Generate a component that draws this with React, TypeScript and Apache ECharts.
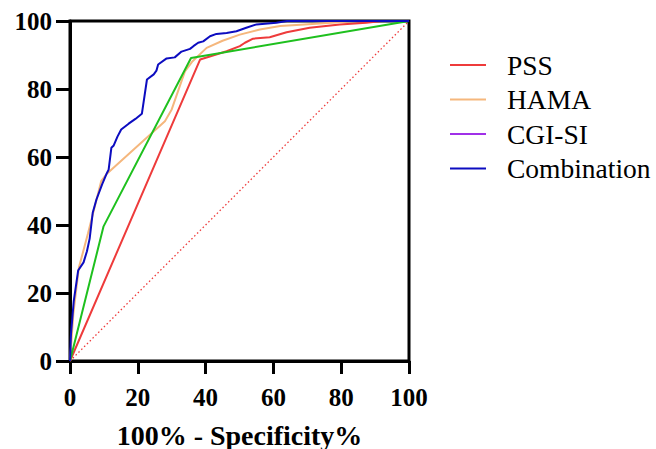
import React, { useEffect, useRef } from "react";
import * as echarts from "echarts";

const seriesNames = ["PSS", "HAMA", "CGI-SI", "Combination"];
const xTicks = [0, 20, 40, 60, 80, 100];

const pssPoints: [number, number][] = [
  [0, 0], [38.4, 88.7], [46.2, 91.1], [50.1, 92.6], [51.6, 93.6], [54, 94.8],
  [58.9, 95.2], [63.9, 96.7], [70.7, 98.0], [79.6, 99.0], [87.4, 99.5], [92, 100], [100, 100],
];

const hamaPoints: [number, number][] = [
  [0, 0], [1, 14], [2.6, 27.4], [5.3, 37.5], [9.2, 52.9], [10.8, 55], [28, 70.5],
  [30, 74], [33.9, 85.2], [36, 88], [40.3, 92.1], [45, 94.2], [50.1, 96], [56, 97.5],
  [62, 98.5], [68, 98.9], [80.5, 99.7], [85, 100], [100, 100],
];

const cgiPoints: [number, number][] = [
  [0, 0], [9.9, 39.6], [35.7, 89.1], [100, 100],
];

const combinationPoints: [number, number][] = [
  [0, 0], [0.3, 8], [1.1, 17.6], [2.4, 26.6], [4.0, 29.0], [5.0, 32.3], [5.8, 36.0],
  [6.7, 43.6], [7.8, 47.5], [9.5, 52], [10.9, 55.3], [11.4, 56.3], [12.2, 62.7],
  [12.9, 63.4], [14, 66], [15.1, 68.1], [17.3, 69.8], [19.3, 71.2], [21.2, 72.7],
  [22.7, 82.8], [24.7, 84.3], [25.5, 85.4], [26, 87.2], [28.5, 89.0], [30.9, 89.3],
  [32.9, 91.0], [35.4, 91.8], [36.4, 92.6], [37.8, 93.6], [39.3, 94.0], [41.3, 95.5],
  [43.2, 96.2], [46.2, 96.5], [49.1, 97.0], [52, 98], [55, 99], [60.9, 99.5],
  [64, 100], [100, 100],
];

const referencePoints: [number, number][] = [[0, 0], [100, 100]];

const lineColors = ["#ee3b3b", "#f5b77d", "#1ec01e", "#0c0cc0"];
const legendColors = ["#ee3b3b", "#f5b77d", "#a030e8", "#0c0cc0"];

const FONT = "'Liberation Serif', 'Times New Roman', serif";

export default function App() {
  const ref = useRef<HTMLDivElement>(null);
  useEffect(() => {
    if (!ref.current) return;
    const chart = echarts.init(ref.current, undefined, { renderer: "svg" });
    const dataSets = [pssPoints, hamaPoints, cgiPoints, combinationPoints];
    chart.setOption({
      animation: false,
      backgroundColor: "#ffffff",
      grid: {
        left: 70,
        right: 247,
        top: 21,
        bottom: 88,
        outerBoundsMode: "none",
        containLabel: false,
        show: true,
        borderColor: "#000",
        borderWidth: 3,
        backgroundColor: "transparent",
      },
      legend: {
        orient: "vertical",
        left: 450,
        top: 51,
        padding: 0,
        icon: "rect",
        itemWidth: 36,
        itemHeight: 2,
        itemGap: 6.5,
        selectedMode: false,
        textStyle: {
          fontFamily: FONT,
          fontSize: 27.5,
          lineHeight: 27.5,
          color: "#000",
          padding: [0, 0, 0, 16],
        },
        data: seriesNames.map((n, i) => ({
          name: n,
          itemStyle: { color: legendColors[i], borderWidth: 0 },
        })),
      },
      xAxis: {
        type: "value",
        min: 0,
        max: 100,
        interval: 20,
        name: "100% - Specificity%",
        nameLocation: "middle",
        nameGap: 60,
        nameTextStyle: { fontFamily: FONT, fontSize: 28, fontWeight: "bold", color: "#000" },
        axisLine: { show: true, onZero: false, lineStyle: { color: "#000", width: 3 } },
        axisTick: { show: true, length: 13, lineStyle: { color: "#000", width: 3 } },
        axisLabel: {
          fontFamily: FONT,
          fontSize: 25,
          fontWeight: "bold",
          color: "#000",
          margin: 24,
          customValues: xTicks,
        },
        splitLine: { show: false },
      },
      yAxis: {
        type: "value",
        min: 0,
        max: 100,
        interval: 20,
        axisLine: { show: true, onZero: false, lineStyle: { color: "#000", width: 3 } },
        axisTick: { show: true, length: 14, lineStyle: { color: "#000", width: 3 } },
        axisLabel: {
          fontFamily: FONT,
          fontSize: 25,
          fontWeight: "bold",
          color: "#000",
          margin: 18,
        },
        splitLine: { show: false },
      },
      series: [
        {
          name: "reference",
          type: "line",
          data: referencePoints,
          symbol: "none",
          silent: true,
          lineStyle: { color: "#ee3b3b", width: 1.3, type: [1.5, 2.5] },
          z: 1,
        },
        ...seriesNames.map((n, i) => ({
          name: n,
          type: "line",
          data: dataSets[i],
          symbol: "none",
          itemStyle: { color: legendColors[i] },
          lineStyle: { color: lineColors[i], width: 2 },
          z: 2 + i,
        })),
      ],
    });
    return () => chart.dispose();
  }, []);
  return (
    <div
      ref={ref}
      style={{ position: "absolute", left: 0, top: 0, width: 656, height: 449 }}
    />
  );
}
